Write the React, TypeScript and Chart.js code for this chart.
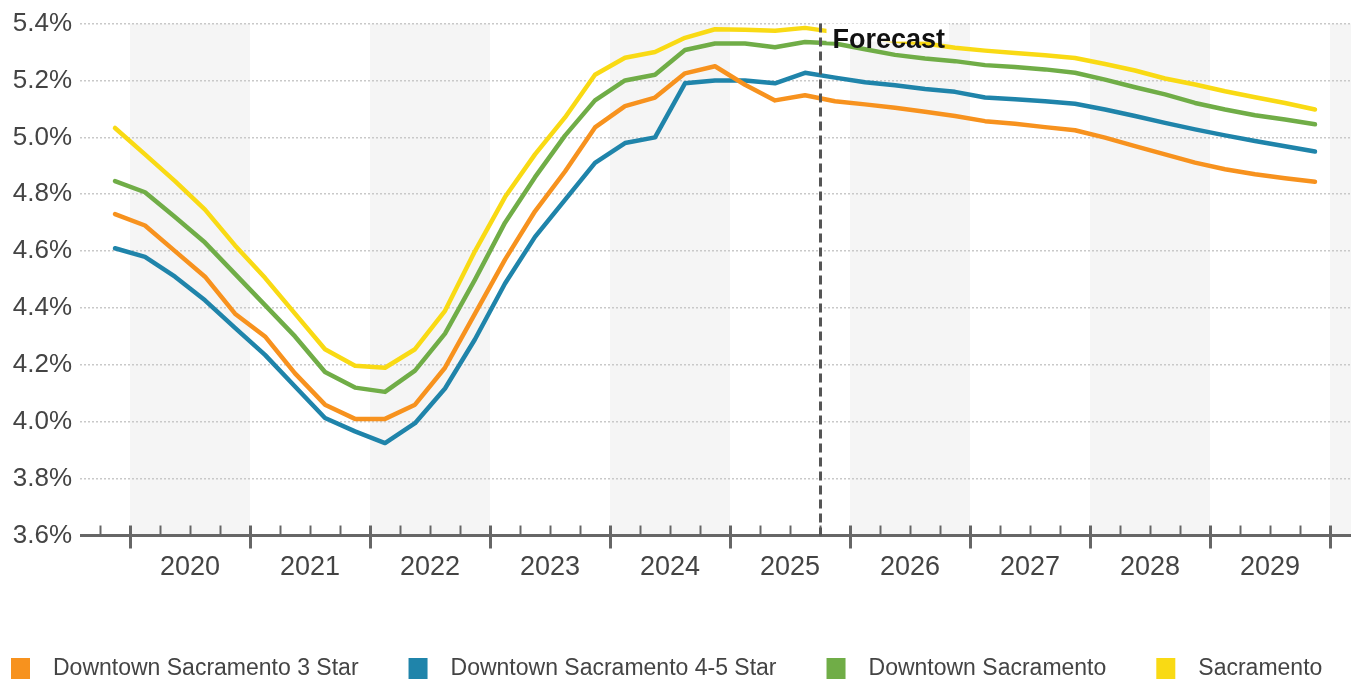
import React, { useEffect, useRef } from "react";
import { Chart, registerables } from "chart.js";

Chart.register(...registerables);

// Quarterly periods, oldest first
const QUARTERS = [
  "2019 Q4",
  "2020 Q1", "2020 Q2", "2020 Q3", "2020 Q4",
  "2021 Q1", "2021 Q2", "2021 Q3", "2021 Q4",
  "2022 Q1", "2022 Q2", "2022 Q3", "2022 Q4",
  "2023 Q1", "2023 Q2", "2023 Q3", "2023 Q4",
  "2024 Q1", "2024 Q2", "2024 Q3", "2024 Q4",
  "2025 Q1", "2025 Q2", "2025 Q3", "2025 Q4",
  "2026 Q1", "2026 Q2", "2026 Q3", "2026 Q4",
  "2027 Q1", "2027 Q2", "2027 Q3", "2027 Q4",
  "2028 Q1", "2028 Q2", "2028 Q3", "2028 Q4",
  "2029 Q1", "2029 Q2", "2029 Q3", "2029 Q4",
];

const YEAR_LABELS = ["2020", "2021", "2022", "2023", "2024", "2025", "2026", "2027", "2028", "2029"];
const Y_TICKS = [3.6, 3.8, 4.0, 4.2, 4.4, 4.6, 4.8, 5.0, 5.2, 5.4];

const FORECAST_FROM = "2025 Q4";
const FORECAST_LABEL = "Forecast";

const SERIES_LABELS = [
  "Downtown Sacramento 3 Star",
  "Downtown Sacramento 4-5 Star",
  "Downtown Sacramento",
  "Sacramento",
];
const SERIES_COLORS = ["#F7921E", "#1F84AA", "#70AD47", "#F9DA14"];

// Rates in percent, one value per quarter
const DOWNTOWN_3_STAR = [
  4.73, 4.69, 4.60, 4.51, 4.38, 4.30, 4.17, 4.06, 4.01, 4.01,
  4.06, 4.19, 4.38, 4.57, 4.74, 4.88, 5.035, 5.11, 5.14, 5.225,
  5.25, 5.185, 5.13, 5.148, 5.127, 5.116, 5.104, 5.09, 5.075, 5.057,
  5.048, 5.036, 5.025, 4.999, 4.969, 4.94, 4.911, 4.888, 4.87, 4.856,
  4.844,
];
const DOWNTOWN_4_5_STAR = [
  4.61, 4.58, 4.51, 4.427, 4.33, 4.235, 4.124, 4.013, 3.966, 3.925,
  3.995, 4.117, 4.29, 4.486, 4.65, 4.78, 4.91, 4.98, 5.00, 5.19,
  5.20, 5.20, 5.19, 5.227, 5.21, 5.194, 5.183, 5.17, 5.16, 5.14,
  5.134, 5.127, 5.118, 5.098, 5.075, 5.051, 5.028, 5.007, 4.987, 4.969,
  4.95,
];
const DOWNTOWN = [
  4.846, 4.807, 4.72, 4.63, 4.52, 4.41, 4.30, 4.175, 4.12, 4.105,
  4.18, 4.31, 4.50, 4.70, 4.86, 5.006, 5.13, 5.20, 5.22, 5.307,
  5.33, 5.33, 5.317, 5.335, 5.33, 5.31, 5.29, 5.277, 5.268, 5.254,
  5.247, 5.239, 5.227, 5.203, 5.176, 5.151, 5.121, 5.098, 5.078, 5.063,
  5.046,
];
const SACRAMENTO = [
  5.033, 4.94, 4.846, 4.746, 4.62, 4.506, 4.38, 4.255, 4.197, 4.19,
  4.255, 4.39, 4.60, 4.79, 4.94, 5.07, 5.22, 5.28, 5.30, 5.35,
  5.38, 5.378, 5.375, 5.385, 5.37, 5.355, 5.34, 5.33, 5.315, 5.305,
  5.297, 5.289, 5.279, 5.258, 5.235, 5.207, 5.186, 5.162, 5.141, 5.121,
  5.098,
];

const SERIES_VALUES = [DOWNTOWN_3_STAR, DOWNTOWN_4_5_STAR, DOWNTOWN, SACRAMENTO];

const FONT = "'Liberation Sans', Arial, Helvetica, sans-serif";
const TEXT_COLOR = "#444444";
const AXIS_COLOR = "#666666";
const BAND_COLOR = "#F5F5F5";

// Position on the x scale: quarters since the start of 2020 (left edge of the quarter)
function quarterStart(label: string): number {
  const [year, q] = label.split(" Q");
  return (Number(year) - 2020) * 4 + (Number(q) - 1);
}

const decorations = {
  id: "decorations",
  beforeDraw(chart: any) {
    const { ctx, chartArea: area, scales } = chart;
    const x = scales.x;
    ctx.save();
    ctx.fillStyle = BAND_COLOR;
    // shade every other calendar year, starting with 2020
    for (let i = 0; i <= YEAR_LABELS.length; i += 2) {
      const x0 = x.getPixelForValue(i * 4);
      const x1 = Math.min(x.getPixelForValue(i * 4 + 4), area.right);
      if (x1 > x0) ctx.fillRect(x0, area.top, x1 - x0, area.bottom - area.top);
    }
    ctx.restore();
  },
  afterDatasetsDraw(chart: any) {
    const { ctx, chartArea: area, scales } = chart;
    const x = scales.x;
    const base = area.bottom;
    ctx.save();

    // axis line with quarter and year tick marks
    ctx.strokeStyle = AXIS_COLOR;
    ctx.lineWidth = 3;
    ctx.beginPath();
    ctx.moveTo(area.left, base);
    ctx.lineTo(area.right, base);
    ctx.stroke();
    for (let t = Math.ceil(x.min); t <= x.max; t++) {
      const px = Math.round(x.getPixelForValue(t)) + 0.5;
      const major = ((t % 4) + 4) % 4 === 0;
      ctx.lineWidth = major ? 3 : 2;
      ctx.beginPath();
      ctx.moveTo(px, base - 10);
      ctx.lineTo(px, major ? base + 13 : base + 1);
      ctx.stroke();
    }

    // start of the forecast period
    const fx = Math.round(x.getPixelForValue(quarterStart(FORECAST_FROM))) + 0.5;
    ctx.strokeStyle = "#555555";
    ctx.lineWidth = 3;
    ctx.setLineDash([9, 5]);
    ctx.beginPath();
    ctx.moveTo(fx, area.top);
    ctx.lineTo(fx, area.bottom);
    ctx.stroke();
    ctx.setLineDash([]);

    ctx.font = `bold 27px ${FONT}`;
    const tw = ctx.measureText(FORECAST_LABEL).width;
    ctx.fillStyle = "#ffffff";
    ctx.fillRect(fx + 6, area.top, tw + 10, 18);
    ctx.fillStyle = "#111111";
    ctx.textBaseline = "alphabetic";
    ctx.textAlign = "left";
    ctx.fillText(FORECAST_LABEL, fx + 12, area.top + 24.5);
    ctx.restore();
  },
  afterDraw(chart: any) {
    const { ctx } = chart;
    ctx.save();
    ctx.font = `23px ${FONT}`;
    ctx.textBaseline = "middle";
    ctx.textAlign = "left";
    const cy = 668;
    let lx = 11;
    SERIES_LABELS.forEach((label, i) => {
      ctx.fillStyle = SERIES_COLORS[i];
      ctx.fillRect(lx, cy - 10, 19, 21);
      ctx.fillStyle = TEXT_COLOR;
      const tx = lx + 19 + 23;
      ctx.fillText(label, tx, cy + 1);
      lx = tx + ctx.measureText(label).width + 50;
    });
    ctx.restore();
  },
};

export default function App() {
  const canvasRef = useRef<HTMLCanvasElement | null>(null);

  useEffect(() => {
    document.body.style.margin = "0";
    const canvas = canvasRef.current;
    if (!canvas) return;

    Chart.defaults.font.family = FONT;
    Chart.defaults.color = TEXT_COLOR;

    const datasets = SERIES_LABELS.map((label, i) => ({
      label,
      data: QUARTERS.map((q, k) => ({ x: quarterStart(q) + 0.5, y: SERIES_VALUES[i][k] })),
      borderColor: SERIES_COLORS[i],
      backgroundColor: SERIES_COLORS[i],
      borderWidth: 4.5,
      pointRadius: 0,
      pointHoverRadius: 0,
      tension: 0,
      fill: false,
      borderJoinStyle: "round" as const,
      borderCapStyle: "round" as const,
    }));

    const chart = new Chart(canvas, {
      type: "line",
      data: { datasets },
      options: {
        animation: false,
        responsive: false,
        devicePixelRatio: 1,
        layout: { padding: { top: 22.5, right: 5, left: 0, bottom: 0 } },
        plugins: {
          legend: { display: false },
          tooltip: { enabled: false },
        },
        scales: {
          x: {
            type: "linear",
            min: -5 / 3,
            max: 40.7,
            grid: { display: false },
            border: { display: false },
            afterBuildTicks: (scale: any) => {
              scale.ticks = YEAR_LABELS.map((_, i) => ({ value: i * 4 + 2 }));
            },
            afterFit: (scale: any) => {
              scale.height = 148.5;
            },
            ticks: {
              autoSkip: false,
              maxRotation: 0,
              padding: 8,
              color: TEXT_COLOR,
              font: { size: 27, family: FONT },
              callback: (_v: any, index: number) => YEAR_LABELS[index],
            },
          },
          y: {
            min: Y_TICKS[0],
            max: Y_TICKS[Y_TICKS.length - 1],
            afterBuildTicks: (scale: any) => {
              scale.ticks = Y_TICKS.map((v) => ({ value: v }));
            },
            afterFit: (scale: any) => {
              scale.width = 80;
            },
            grid: { color: "#C9C9C9", lineWidth: 1.5, drawTicks: false },
            border: { display: false, dash: [2, 2] },
            ticks: {
              padding: 8,
              color: TEXT_COLOR,
              font: { size: 26, family: FONT },
              callback: (v: any) => `${Number(v).toFixed(1)}%`,
            },
          },
        },
      },
      plugins: [decorations],
    });

    return () => chart.destroy();
  }, []);

  return (
    <div style={{ width: 1356, height: 684, background: "#ffffff" }}>
      <canvas ref={canvasRef} width={1356} height={684} />
    </div>
  );
}
